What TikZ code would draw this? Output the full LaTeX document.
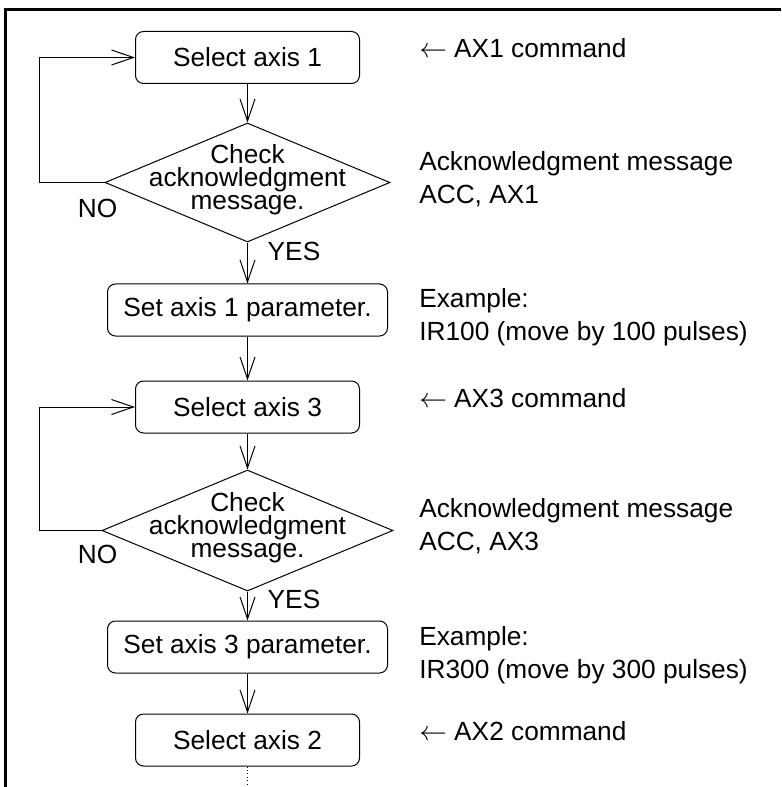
\documentclass[tikz,border=0pt]{standalone}
\usepackage{fontspec}
\setmainfont{Liberation Sans}
\usetikzlibrary{arrows.meta,shapes.geometric}
\begin{document}
\begin{tikzpicture}[x=0.75pt,y=-0.75pt,
  every node/.style={font=\fontsize{19.7}{24.4}\selectfont},
  procbox/.style={draw,rounded corners=6pt,line width=0.75pt,inner sep=0pt,minimum height=39pt},
  narrowbox/.style={procbox,minimum width=168pt},
  widebox/.style={procbox,minimum width=210pt},
  decision/.style={draw,diamond,line width=0.75pt,inner sep=0pt},
  dtext/.style={align=center,font=\fontsize{19.7}{17.3}\selectfont,inner sep=0pt},
  note/.style={anchor=west,align=left,inner sep=0pt},
  lbl/.style={inner sep=0pt},
  flow/.style={line width=0.75pt,-{Straight Barb[length=16.5pt,width=11.25pt]}},
  frame/.style={line width=2.25pt},
]
\useasboundingbox (0,0) rectangle (781,787);

% frame (top and left only)
\coordinate (ftr) at (781,9.5);
\coordinate (fcorner) at (5.8,9.5);
\coordinate (fbl) at (5.8,787);
\draw[frame] (ftr) -- (fcorner) -- (fbl);

% flow nodes
\node[narrowbox] (s1) at (247.5,57.5) {Select axis 1};
\node[decision,minimum width=213.75pt,minimum height=89.25pt] (d1) at (247.5,182.5) {};
\node[dtext] (d1t) at (247.5,180) {Check\\acknowledgment\\message.};
\node[widebox] (p1) at (247.5,310) {Set axis 1 parameter.};
\node[narrowbox] (s3) at (247.5,407) {Select axis 3};
\node[decision,minimum width=218.25pt,minimum height=90.75pt] (d2) at (247.5,530.5) {};
\node[dtext] (d2t) at (247.5,528) {Check\\acknowledgment\\message.};
\node[widebox] (p3) at (247.5,647) {Set axis 3 parameter.};
\node[narrowbox] (s2) at (247.5,740) {Select axis 2};
\coordinate (cont) at (247.5,787);

% connectors
\draw[flow] (s1) -- (d1);
\draw[flow] (d1) -- (p1);
\draw[flow] (p1) -- (s3);
\draw[flow] (s3) -- (d2);
\draw[flow] (d2) -- (p3);
\draw[flow] (p3) -- (s2);
\draw[flow] (d1.west) -- ++(-65,0) |- (s1.west);
\draw[flow] (d2.west) -- ++(-62,0) |- (s3.west);
\draw[line width=0.6pt,dotted] (s2.south) -- (cont);

% branch labels
\node[lbl] (no1) at (97.5,208) {NO};
\node[lbl] (yes1) at (294,251) {YES};
\node[lbl] (no2) at (97.5,554) {NO};
\node[lbl] (yes2) at (294,599) {YES};

% notes
\node[note] (n1) at (419,48) {$\leftarrow$ AX1 command};
\node[note] (n2) at (419,179) {Acknowledgment message\\ACC, AX1};
\node[note] (n3) at (419,317) {Example:\\IR100 (move by 100 pulses)};
\node[note] (n4) at (419,398) {$\leftarrow$ AX3 command};
\node[note] (n5) at (419,526) {Acknowledgment message\\ACC, AX3};
\node[note] (n6) at (419,655) {Example:\\IR300 (move by 300 pulses)};
\node[note] (n7) at (419,731) {$\leftarrow$ AX2 command};
\end{tikzpicture}
\end{document}
